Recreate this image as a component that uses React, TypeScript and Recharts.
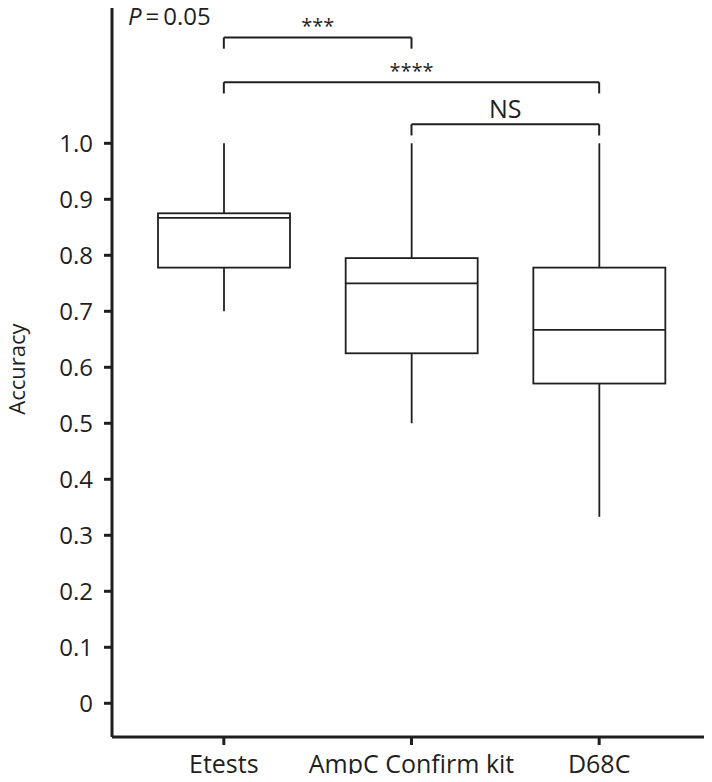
import {
  ComposedChart,
  Bar,
  XAxis,
  YAxis,
  ReferenceLine
} from "recharts";

// box plot summary per method
const groups = ["Etests", "AmpC Confirm kit", "D68C"];
const whiskerLow = [0.7, 0.5, 0.333];
const q1 = [0.778, 0.625, 0.571];
const medians = [0.867, 0.75, 0.667];
const q3 = [0.875, 0.795, 0.778];
const whiskerHigh = [1.0, 1.0, 1.0];

const yTicks = [0, 0.1, 0.2, 0.3, 0.4, 0.5, 0.6, 0.7, 0.8, 0.9, 1.0];

// significance brackets
const pairFrom = [0, 0, 1];
const pairTo = [1, 2, 2];
const pairLevel = [1.189, 1.109, 1.034];
const pairLabel = ["***", "****", "NS"];

const ink = "#1f1f1f";
const font = "'Open Sans', sans-serif";

const data = groups.map((g, i) => ({
  name: g,
  range: [whiskerLow[i], whiskerHigh[i]],
  min: whiskerLow[i],
  q1: q1[i],
  median: medians[i],
  q3: q3[i],
  max: whiskerHigh[i]
}));

function BoxShape(props: any) {
  const { x, y, width, height, payload } = props;
  const top = Math.min(y, y + height);
  const bottom = Math.max(y, y + height);
  const { min, max } = payload;
  const py = (v: number) => bottom - ((bottom - top) * (v - min)) / (max - min);
  const cx = x + width / 2;
  return (
    <g stroke={ink} strokeWidth={1.8} fill="#fff">
      <line x1={cx} x2={cx} y1={py(max)} y2={py(payload.q3)} />
      <line x1={cx} x2={cx} y1={py(payload.q1)} y2={py(min)} />
      <rect
        x={x}
        y={py(payload.q3)}
        width={width}
        height={py(payload.q1) - py(payload.q3)}
      />
      <line x1={x} x2={x + width} y1={py(payload.median)} y2={py(payload.median)} />
    </g>
  );
}

export default function App() {
  const drop = 0.02;
  return (
    <div style={{ margin: -8, position: "relative", width: 712, height: 782 }}>
      <ComposedChart
        width={712}
        height={782}
        data={data}
        margin={{ top: 0, right: 0, bottom: 0, left: 0 }}
      >
        <XAxis
          dataKey="name"
          type="category"
          padding={{ left: 18, right: 19 }}
          height={45}
          axisLine={{ stroke: ink, strokeWidth: 3 }}
          tickLine={{ stroke: ink, strokeWidth: 3 }}
          tickSize={8}
          tickMargin={10}
          tick={{ fill: ink, fontSize: 25, fontFamily: font }}
          interval={0}
        />
        <YAxis
          type="number"
          domain={[-0.0602, 1.2559]}
          allowDataOverflow
          ticks={yTicks}
          tickFormatter={(v: number) => (v === 0 ? "0" : v.toFixed(1))}
          width={112}
          axisLine={{ stroke: ink, strokeWidth: 3 }}
          tickLine={{ stroke: ink, strokeWidth: 3 }}
          tickSize={8}
          tickMargin={11}
          tick={{ fill: ink, fontSize: 24, fontFamily: font }}
        />
        <Bar
          dataKey="range"
          barSize={132}
          isAnimationActive={false}
          shape={<BoxShape />}
        />
        {pairFrom.map((f, i) => {
          const a = groups[f];
          const b = groups[pairTo[i]];
          const lv = pairLevel[i];
          const isNs = pairLabel[i] === "NS";
          return [
            <ReferenceLine
              key={"h" + i}
              segment={[
                { x: a, y: lv },
                { x: b, y: lv }
              ]}
              stroke={ink}
              strokeWidth={2}
              label={{
                value: pairLabel[i],
                position: "top",
                offset: isNs ? 6 : 4,
                style: { fill: ink, fontSize: isNs ? 25 : 20, fontFamily: font }
              }}
            />,
            <ReferenceLine
              key={"l" + i}
              segment={[
                { x: a, y: lv },
                { x: a, y: lv - drop }
              ]}
              stroke={ink}
              strokeWidth={2}
            />,
            <ReferenceLine
              key={"r" + i}
              segment={[
                { x: b, y: lv },
                { x: b, y: lv - drop }
              ]}
              stroke={ink}
              strokeWidth={2}
            />
          ];
        })}
      </ComposedChart>
      <svg
        width={712}
        height={782}
        style={{ position: "absolute", left: 0, top: 0, pointerEvents: "none" }}
        fontFamily={font}
        fill={ink}
      >
        <text x={128} y={25} fontSize={24}>
          <tspan fontStyle="italic">P</tspan>
          {"\u2009=\u20090.05"}
        </text>
        <text
          x={0}
          y={0}
          fontSize={22}
          textAnchor="middle"
          transform="translate(25,369) rotate(-90)"
        >
          Accuracy
        </text>
      </svg>
    </div>
  );
}
